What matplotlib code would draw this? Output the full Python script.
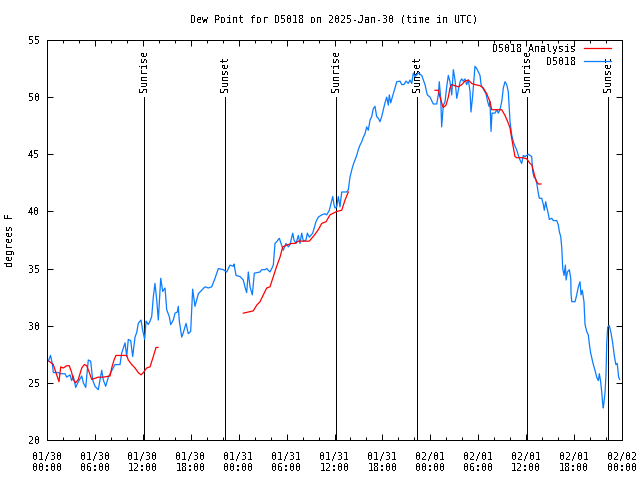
import numpy as np
import matplotlib
matplotlib.use('Agg')
import matplotlib.pyplot as plt

plt.rcParams['font.family'] = ['DejaVu Sans Mono']
plt.rcParams['font.size'] = 7.2
plt.rcParams['text.antialiased'] = False

nan = np.nan

# hours since 2025-01-30 00:00 UTC
obs_t = [0.16, 0.44, 0.66, 0.79, 1.41, 1.63, 2.25, 2.47, 2.88, 3.09, 3.29, 3.59, 3.92, 4.35, 4.55, 4.85,
         5.17, 5.47, 5.72, 6.01, 6.42, 6.85, 7.05, 7.35, 7.68, 8.51, 9.14, 9.35, 9.77, 9.98, 10.18, 10.48,
         10.73, 11.02, 11.23, 11.43, 11.77, 11.98, 12.23, 12.40, 12.68, 12.90, 13.11, 13.31, 13.52, 13.74,
         13.94, 14.24, 14.49, 14.78, 14.99, 15.31, 15.49, 15.82, 16.03, 16.32, 16.44, 16.57, 16.87, 17.07,
         17.41, 17.69, 17.99, 18.24, 18.53, 18.95, 19.37, 19.78, 20.20, 20.62, 21.04, 21.45, 22.08, 22.50,
         22.92, 23.33, 23.42, 23.67, 24.17, 24.58, 24.79, 25.00, 25.21, 25.42, 25.71, 25.96, 26.67, 26.88,
         27.30, 27.51, 27.92, 28.14, 28.34, 28.55, 28.76, 29.09, 29.26, 29.59, 29.93, 30.22, 30.43, 30.77,
         30.93, 31.18, 31.47, 31.68, 31.89, 32.10, 32.43, 32.60, 32.85, 33.27, 33.68, 33.97, 34.40, 34.81,
         35.02, 35.35, 35.78, 35.94, 36.06, 36.28, 36.48, 36.69, 36.90, 37.53, 37.73, 37.94, 38.15, 38.35,
         38.57, 38.78, 38.98, 39.19, 39.41, 39.61, 39.82, 40.03, 40.23, 40.45, 40.66, 40.86, 41.07, 41.28,
         41.49, 41.70, 41.91, 42.11, 42.32, 42.54, 42.74, 42.86, 43.04, 43.36, 43.58, 43.79, 44.20, 44.42,
         44.70, 44.95, 45.24, 45.45, 45.67, 45.87, 46.08, 46.49, 46.92, 47.33, 47.62, 47.96, 48.37, 48.80,
         49.00, 49.12, 49.30, 49.42, 49.62, 49.84, 50.05, 50.25, 50.46, 50.68, 50.88, 51.09, 51.31, 51.51,
         51.72, 51.93, 52.13, 52.34, 52.55, 52.76, 52.97, 53.09, 53.31, 53.59, 53.81, 54.01, 54.22, 54.35,
         54.56, 54.97, 55.18, 55.35, 55.47, 55.60, 55.72, 55.89, 56.10, 56.31, 56.51, 56.72, 56.94, 57.14,
         57.35, 57.56, 57.76, 57.98, 58.19, 58.39, 58.60, 58.81, 59.02, 59.23, 59.44, 59.64, 59.85, 60.07,
         60.27, 60.48, 60.69, 60.82, 60.98, 61.14, 61.32, 61.52, 61.65, 61.95, 62.15, 62.27, 62.45, 62.57,
         62.77, 62.90, 63.20, 63.40, 63.83, 64.03, 64.16, 64.33, 64.46, 64.58, 64.74, 64.91, 65.00, 65.16,
         65.41, 65.59, 65.62, 65.71, 66.12, 66.33, 66.53, 66.74, 66.87, 67.03, 67.24, 67.37, 67.58, 67.78,
         67.91, 68.08, 68.21, 68.41, 68.62, 68.83, 69.04, 69.16, 69.33, 69.46, 69.58, 69.66, 69.87, 70.00,
         70.09, 70.21, 70.41, 70.62, 70.83, 71.03, 71.23, 71.40, 71.58, 71.71]
obs_v = [26.9, 27.4, 26.7, 25.9, 25.9, 25.8, 25.8, 25.5, 25.7, 25.2, 25.6, 24.6, 25.1, 25.6, 25.0, 24.6,
         27.0, 26.9, 25.25, 24.7, 24.4, 26.1, 25.25, 24.7, 25.5, 26.6, 26.6, 27.6, 28.5, 27.3, 28.8, 28.7,
         27.3, 29.0, 29.4, 30.2, 30.5, 29.6, 28.8, 30.4, 30.1, 30.4, 30.8, 32.5, 33.7, 32.25,
         30.5, 34.15, 33.0, 33.3, 31.4, 30.8, 30.1, 30.5, 31.1, 31.2, 31.7, 30.4, 29.0, 29.4,
         30.2, 29.3, 29.5, 33.2, 31.7, 32.8, 33.1, 33.4, 33.3, 33.4, 34.15, 35.0, 34.9, 34.7,
         35.3, 35.2, 35.4, 34.4, 34.3, 34.0, 33.4, 32.9, 34.7, 33.4, 32.7, 34.6, 34.7, 34.9,
         34.9, 35.0, 34.7, 35.0, 35.3, 37.2, 37.35, 37.65, 37.3, 36.6, 37.2, 36.9, 37.1, 38.1,
         37.5, 37.2, 37.9, 37.2, 38.1, 37.4, 37.5, 38.1, 37.75, 38.1, 39.1, 39.5, 39.7, 39.8,
         39.7, 40.1, 41.3, 40.6, 40.3, 40.4, 41.3, 40.4, 41.7, 41.7, 41.9, 43.0, 43.6, 44.1,
         44.5, 44.9, 45.4, 45.8, 46.1, 46.5, 46.8, 47.4, 47.1, 48.0, 48.3, 49.0, 49.2, 48.3,
         48.15, 47.85, 48.3, 48.9, 49.5, 50.0, 49.3, 50.2, 49.5, 50.3, 50.8, 51.35, 51.4, 51.1,
         51.1, 51.4, 51.2, 51.5, 51.2, 52.1, 51.8, 52.1, 51.9, 51.1, 50.2, 50.0, 49.4, 49.4,
         50.2, 51.35, 49.9, 47.4, 49.3, 49.6, 50.9, 51.9, 51.35, 50.2, 52.4, 51.5, 49.9, 50.6,
         51.35, 51.6, 51.4, 51.6, 51.1, 51.5, 50.5, 48.7, 50.2, 52.7, 52.5, 52.2, 51.9, 51.1,
         50.8, 50.3, 49.6, 49.2, 49.6, 47.0, 48.6, 48.6, 48.6, 48.9, 48.6, 48.9, 49.6, 50.8,
         51.35, 51.1, 50.5, 47.85, 46.7, 46.1, 45.7, 45.4, 44.9, 44.5, 44.2, 44.9, 44.8, 44.9,
         45.0, 44.9, 44.8, 43.5, 43.0, 42.9, 42.5, 41.6, 41.15, 41.15, 40.6, 40.1, 40.85, 40.4,
         39.8, 39.3, 39.4, 39.2, 39.2, 38.8, 38.2, 37.8, 36.8, 35.0, 34.4, 35.3, 34.0, 34.7,
         34.9, 34.1, 32.8, 32.1, 32.1, 32.7, 33.4, 33.85, 32.7, 33.1, 32.1, 30.1, 29.5, 29.2,
         28.4, 27.6, 27.2, 26.6, 26.1, 25.5, 25.2, 25.8, 25.1, 24.2, 23.2, 22.8, 24.1, 25.8,
         28.5, 29.9, 30.0, 29.4, 28.5, 27.4, 26.6, 26.7, 25.5, 25.3]

# analysis series, gaps marked with nan
ana_t = [0.25, 0.79, 1.21, 1.50, 1.72, 2.04, 2.47, 2.79, 3.09, 3.29, 3.59, 3.92, 4.35, 4.67, 4.97, 5.30,
         5.60, 6.01, 6.42, 7.05, 7.89, 8.10, 8.39, 8.64, 9.98, 10.18, 10.61, 11.02, 11.43, 11.77, 12.06,
         12.48, 12.90, 13.31, 13.65, 13.90, nan,
         24.58, 25.21, 25.83, 26.26, 26.67, 27.09, 27.51, 27.92, 28.34, 28.76, 29.18, 29.51, 30.01, 30.64,
         31.05, 31.47, 32.10, 32.85, 33.56, 33.97, 34.40, 34.94, 35.44, 36.28, 36.90, 37.32, 37.73, nan,
         48.59, 49.00, 49.21, 49.42, 49.62, 49.96, 50.25, 50.46, 50.68, 51.09, 51.51, 51.93, 52.34, 52.76,
         53.18, 53.59, 54.22, 54.63, 55.06, 55.47, 55.68, 56.31, 56.94, 57.35, 57.69, 57.98, 58.19, 58.39,
         58.60, 58.81, 59.64, 60.07, 60.48, 60.69, 60.89, 61.10, 61.32, 61.52, 61.86]
ana_v = [26.9, 26.6, 25.7, 25.1, 26.4, 26.3, 26.5, 26.5, 25.9, 25.3, 25.0, 25.3, 26.3, 26.6, 26.5, 25.9,
         25.3, 25.4, 25.5, 25.5, 25.6, 26.3, 27.0, 27.4, 27.4, 27.0, 26.6, 26.3, 25.9, 25.7, 25.9,
         26.3, 26.4, 27.3, 28.1, 28.1, nan,
         31.1, 31.2, 31.3, 31.8, 32.1, 32.7, 33.3, 33.4, 34.3, 35.2, 36.0, 36.9, 37.05, 37.2,
         37.2, 37.4, 37.4, 37.4, 38.0, 38.4, 38.95, 39.1, 39.7, 40.0, 40.1, 41.0, 41.7, nan,
         50.6, 50.6, 50.0, 49.5, 49.1, 49.3, 50.0, 50.8, 51.1, 51.0, 50.9, 51.1, 51.4, 51.5,
         51.2, 51.1, 51.0, 50.8, 50.3, 49.6, 48.9, 48.9, 48.9, 48.4, 47.85, 47.3, 46.4, 45.6,
         44.8, 44.7, 44.7, 44.6, 44.2, 44.1, 43.6, 43.0, 42.6, 42.4, 42.4]

sun_t = [12.18, 22.29, 36.19, 46.37, 60.14, 70.29]
sun_lbl = ['Sunrise', 'Sunset', 'Sunrise', 'Sunset', 'Sunrise', 'Sunset']

xtick_t = list(range(0, 73, 6))
xtick_lbl = ['01/30\n00:00', '01/30\n06:00', '01/30\n12:00', '01/30\n18:00',
             '01/31\n00:00', '01/31\n06:00', '01/31\n12:00', '01/31\n18:00',
             '02/01\n00:00', '02/01\n06:00', '02/01\n12:00', '02/01\n18:00',
             '02/02\n00:00']

px = 0.72  # one pixel at 100 dpi, in points

fig = plt.figure(figsize=(6.4, 4.8), dpi=100)
ax = fig.add_axes([47 / 640, 40 / 480, 575 / 640, 400 / 480])

ax.vlines(sun_t, 20, 50, color='black', lw=px, zorder=1, antialiased=False)
for t, s in zip(sun_t, sun_lbl):
    ax.text(t, 50.45, s, rotation=90, ha='center', va='bottom', zorder=1)

ax.plot(ana_t, ana_v, color='#ff0000', lw=0.9, label='D5018 Analysis', zorder=3)
ax.plot(obs_t, obs_v, color='#0a7cff', lw=0.9, label='D5018', zorder=2)

ax.set_xlim(0, 72)
ax.set_ylim(20, 55)
ax.set_xticks(xtick_t)
ax.set_xticklabels(xtick_lbl, linespacing=1.2)
ax.set_xticks(range(0, 73, 2), minor=True)
ax.set_yticks(range(20, 56, 5))
ax.tick_params(which='major', direction='in', top=True, right=True, length=6 * px, width=px)
ax.tick_params(which='minor', direction='in', top=True, length=3 * px, width=px)
ax.tick_params(axis='x', pad=8.5)
ax.tick_params(axis='y', pad=5)
for sp in ax.spines.values():
    sp.set_linewidth(px)
    sp.set_antialiased(False)

leg = ax.legend(loc='upper right', bbox_to_anchor=(0.981, 0.99), frameon=False, markerfirst=False,
                borderaxespad=0, borderpad=0, handlelength=2.7, handletextpad=0.8, labelspacing=0.3)
for txt in leg.get_texts():
    txt.set_ha('right')

fig.text(334.5 / 640, 1 - 20 / 480, 'Dew Point for D5018 on 2025-Jan-30 (time in UTC)', ha='center', va='center')
fig.text(10 / 640, 0.5, 'degrees F', rotation=90, ha='center', va='center')

fig.savefig('out.png', dpi=100)
